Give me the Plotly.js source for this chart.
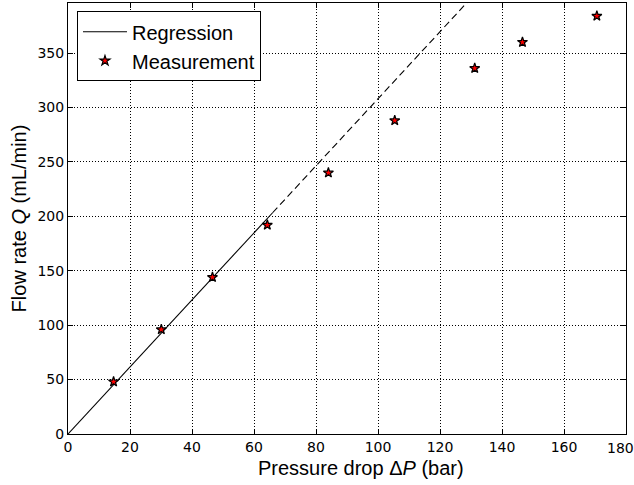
<!DOCTYPE html>
<html>
<head>
<meta charset="utf-8">
<script src="https://cdn.plot.ly/plotly-3.0.1.min.js"></script>
<style>html,body{margin:0;padding:0;background:#fff;}#chart{width:634px;height:485px;}</style>
</head>
<body>
<div id="chart"></div>
<script>
// Measured data
const pressureDrop = [14.7, 30.1, 46.6, 64.3, 84.0, 105.4, 131.2, 146.6, 170.6];
const flowRate = [48, 96, 144, 192, 240, 288, 336, 360, 384];
// Regression (through origin)
const regSlope = 3.08;
const regSolidX = [0, 66];
const regDashX = [66, 130];
const xTicks = [0, 20, 40, 60, 80, 100, 120, 140, 160, 180];
// last label (180) is drawn as an annotation nudged inward so it stays inside the figure
const xTickLabels = ['0', '20', '40', '60', '80', '100', '120', '140', '160', ''];
const xEdgeTick = 180;
const xEdgeLabel = '180';
const yTicks = [0, 50, 100, 150, 200, 250, 300, 350];
const yTickLabels = ['0', '50', '100', '150', '200', '250', '300', '350'];
const xTitle = 'Pressure drop Δ<i>P</i> (bar)';
const yTitle = 'Flow rate <i>Q</i> (mL/min)';

const tickFont = {family: 'DejaVu Sans, sans-serif', color: '#000', size: 14};
const labelFont = {family: 'Liberation Sans, Arial, sans-serif', color: '#000', size: 20};

const traces = [
  {x: regSolidX, y: regSolidX.map(v => v * regSlope), mode: 'lines', name: 'Regression',
   line: {color: '#000', width: 1.1}, showlegend: true},
  {x: regDashX, y: regDashX.map(v => v * regSlope), mode: 'lines', name: 'Regression (extrapolated)',
   line: {color: '#000', width: 1.1, dash: '7px,4px'}, showlegend: false},
  {x: pressureDrop, y: flowRate, mode: 'markers', name: 'Measurement',
   marker: {symbol: 'star', size: 7.5, color: '#ff0000', line: {color: '#000', width: 1.2}}}
];

const axisCommon = {
  showline: true, linecolor: '#000', linewidth: 1, mirror: 'ticks',
  ticks: 'inside', ticklen: 5, tickcolor: '#000', tickwidth: 1,
  showgrid: true, gridcolor: '#000', gridwidth: 1, griddash: '1px,2px',
  zeroline: false, tickfont: tickFont
};

const layout = {
  width: 634, height: 485,
  margin: {l: 68, r: 8, t: 3, b: 51},
  paper_bgcolor: '#fff', plot_bgcolor: '#fff',
  xaxis: Object.assign({}, axisCommon, {
    range: [0, 180], tickvals: xTicks, ticktext: xTickLabels
  }),
  yaxis: Object.assign({}, axisCommon, {
    range: [0, 396], tickvals: yTicks, ticktext: yTickLabels,
    title: {text: yTitle, font: labelFont, standoff: 5}
  }),
  annotations: [
    {text: xEdgeLabel, x: xEdgeTick, xref: 'x', y: 0, yref: 'paper',
     xanchor: 'center', yanchor: 'top', xshift: -6, yshift: -4,
     showarrow: false, font: tickFont},
    {text: xTitle, x: 0.5, xref: 'paper', y: 0, yref: 'paper',
     xanchor: 'center', yanchor: 'top', xshift: 14, yshift: -21,
     showarrow: false, font: labelFont}
  ],
  legend: {
    x: 0.0161, y: 0.981, xanchor: 'left', yanchor: 'top',
    bgcolor: '#fff', bordercolor: '#000', borderwidth: 1,
    font: labelFont, tracegroupgap: 0, itemwidth: 44
  },
  showlegend: true
};

Plotly.newPlot('chart', traces, layout, {displayModeBar: false, staticPlot: true});
</script>
</body>
</html>
